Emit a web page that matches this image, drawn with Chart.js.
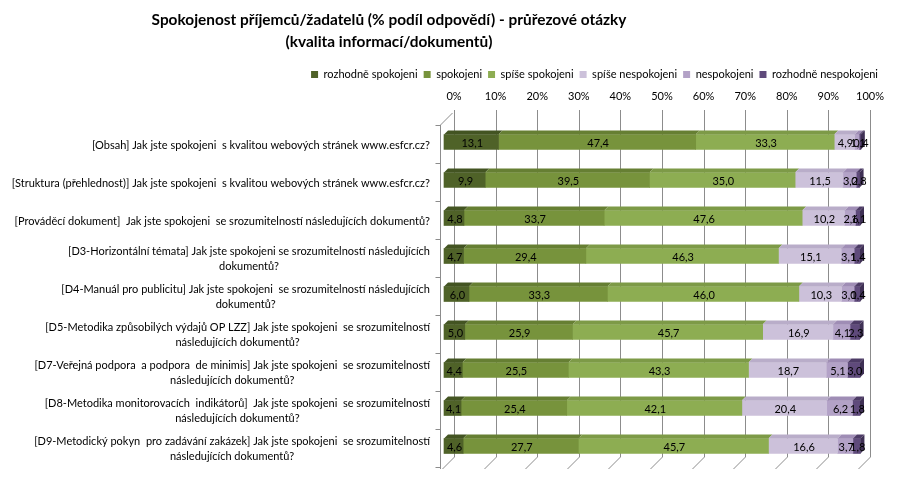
<!DOCTYPE html>
<html>
<head>
<meta charset="utf-8">
<script src="https://cdn.jsdelivr.net/npm/chart.js@4.4.0/dist/chart.umd.min.js"></script>
<style>
  html, body { margin: 0; padding: 0; background: #fff; }
  #wrap { width: 898px; height: 477px; }
</style>
</head>
<body>
<div id="wrap"><canvas id="chart"></canvas></div>
<script>
const titleLines = ['Spokojenost příjemců/žadatelů (% podíl odpovědí) - průřezové otázky', '(kvalita informací/dokumentů)'];

const questions = [
  ['[Obsah] Jak jste spokojeni  s kvalitou webových stránek www.esfcr.cz?'],
  ['[Struktura (přehlednost)] Jak jste spokojeni  s kvalitou webových stránek www.esfcr.cz?'],
  ['[Prováděcí dokument]  Jak jste spokojeni  se srozumitelností následujících dokumentů?'],
  ['[D3-Horizontální témata] Jak jste spokojeni se srozumitelností následujících', 'dokumentů?'],
  ['[D4-Manuál pro publicitu] Jak jste spokojeni  se srozumitelností následujících', 'dokumentů?'],
  ['[D5-Metodika způsobilých výdajů OP LZZ] Jak jste spokojeni  se srozumitelností', 'následujících dokumentů?'],
  ['[D7-Veřejná podpora  a podpora  de minimis] Jak jste spokojeni  se srozumitelností', 'následujících dokumentů?'],
  ['[D8-Metodika monitorovacích  indikátorů]  Jak jste spokojeni  se srozumitelností', 'následujících dokumentů?'],
  ['[D9-Metodický pokyn  pro zadávání zakázek] Jak jste spokojeni  se srozumitelností', 'následujících dokumentů?']
];

const seriesNames = ['rozhodně spokojeni', 'spokojeni', 'spíše spokojeni', 'spíše nespokojeni', 'nespokojeni', 'rozhodně nespokojeni'];

const rozhodneSpokojeni   = [13.1, 9.9, 4.8, 4.7, 6.0, 5.0, 4.4, 4.1, 4.6];
const spokojeni           = [47.4, 39.5, 33.7, 29.4, 33.3, 25.9, 25.5, 25.4, 27.7];
const spiseSpokojeni      = [33.3, 35.0, 47.6, 46.3, 46.0, 45.7, 43.3, 42.1, 45.7];
const spiseNespokojeni    = [4.9, 11.5, 10.2, 15.1, 10.3, 16.9, 18.7, 20.4, 16.6];
const nespokojeni         = [1.1, 3.2, 2.6, 3.1, 3.0, 4.1, 5.1, 6.2, 3.7];
const rozhodneNespokojeni = [0.4, 0.8, 1.1, 1.4, 1.4, 2.3, 3.0, 1.8, 1.8];

const xTicks = [0, 10, 20, 30, 40, 50, 60, 70, 80, 90, 100];

const fillColors = ['#4f6228', '#77933c', '#8dad52', '#ccc1da', '#b3a2c7', '#5f4a7b'];
const topColors  = ['#435422', '#667f33', '#7d9a47', '#b9adc9', '#9f8db5', '#4d3b66'];
const sideColors = ['#3b4a1e', '#5a712d', '#6e883e', '#a99cbb', '#8d7aa4', '#3f3055'];

const FONT = 'Lato';
const DEPTH = 4;

const allSeries = [rozhodneSpokojeni, spokojeni, spiseSpokojeni, spiseNespokojeni, nespokojeni, rozhodneNespokojeni];

// title drawn by hand, it sits left of the canvas centre
const titlePlugin = {
  id: 'titleText',
  afterDraw(chart) {
    const ctx = chart.ctx;
    ctx.save();
    ctx.font = 'bold 15.4px ' + FONT;
    ctx.fillStyle = '#000';
    ctx.textAlign = 'center';
    ctx.textBaseline = 'middle';
    ctx.fillText(titleLines[0], 389, 20);
    ctx.fillText(titleLines[1], 389, 42);
    ctx.restore();
  }
};

// back wall grid of the 3D look
const wallPlugin = {
  id: 'wall',
  beforeDatasetsDraw(chart) {
    const ctx = chart.ctx;
    const xs = chart.scales.x, ys = chart.scales.y;
    const {top, bottom, left} = chart.chartArea;
    ctx.save();
    ctx.strokeStyle = '#8c8c8c';
    ctx.lineWidth = 1;
    ctx.beginPath();
    xTicks.forEach(v => {
      const bx = Math.round(xs.getPixelForValue(v) + 10) + 0.5;
      ctx.moveTo(bx, top - 13);
      ctx.lineTo(bx, bottom - 8);
      ctx.lineTo(bx - 12, bottom + 4);
    });
    // left wall
    const lx = left - 3.5;
    ctx.moveTo(lx + 12, top - 10);
    ctx.lineTo(lx, top + 2);
    ctx.lineTo(lx, bottom + 4);
    for (let i = 0; i <= questions.length; i++) {
      const y = Math.round(ys.top + i * (ys.height / questions.length) + 2) + 0.5;
      ctx.moveTo(lx - 5, y);
      ctx.lineTo(lx, y);
    }
    ctx.stroke();
    ctx.restore();
  }
};

// category labels: block right aligned, lines centred
const yLabelPlugin = {
  id: 'yLabels',
  afterDraw(chart) {
    const ctx = chart.ctx;
    const ys = chart.scales.y;
    ctx.save();
    ctx.font = '11px ' + FONT;
    ctx.fillStyle = '#000';
    ctx.textAlign = 'center';
    ctx.textBaseline = 'middle';
    questions.forEach((lines, i) => {
      const w = Math.max(...lines.map(l => ctx.measureText(l).width));
      const cx = 430 - w / 2;
      const cy = ys.getPixelForValue(i) + 3;
      lines.forEach((l, j) => {
        ctx.fillText(l, cx, cy + (j - (lines.length - 1) / 2) * 15);
      });
    });
    ctx.restore();
  }
};

// top/side faces of the bars + value labels
const barPlugin = {
  id: 'bar3d',
  afterDatasetsDraw(chart) {
    const ctx = chart.ctx;
    ctx.save();
    chart.data.datasets.forEach((ds, i) => {
      const meta = chart.getDatasetMeta(i);
      meta.data.forEach(bar => {
        const x0 = Math.min(bar.x, bar.base), x1 = Math.max(bar.x, bar.base);
        const t = bar.y - bar.height / 2, b = bar.y + bar.height / 2;
        ctx.fillStyle = topColors[i];
        ctx.beginPath();
        ctx.moveTo(x0, t);
        ctx.lineTo(x0 + DEPTH, t - DEPTH);
        ctx.lineTo(x1 + DEPTH, t - DEPTH);
        ctx.lineTo(x1, t);
        ctx.closePath();
        ctx.fill();
        if (i === chart.data.datasets.length - 1) {
          ctx.fillStyle = sideColors[i];
          ctx.beginPath();
          ctx.moveTo(x1, t);
          ctx.lineTo(x1 + DEPTH, t - DEPTH);
          ctx.lineTo(x1 + DEPTH, b - DEPTH);
          ctx.lineTo(x1, b);
          ctx.closePath();
          ctx.fill();
        }
      });
    });
    ctx.font = '11px ' + FONT;
    ctx.fillStyle = '#000';
    ctx.textAlign = 'center';
    ctx.textBaseline = 'middle';
    chart.data.datasets.forEach((ds, i) => {
      const meta = chart.getDatasetMeta(i);
      meta.data.forEach((bar, j) => {
        const txt = ds.data[j].toFixed(1).replace('.', ',');
        ctx.fillText(txt, (bar.x + bar.base) / 2 + 1, bar.y + 1);
      });
    });
    ctx.restore();
  }
};

Chart.defaults.font.family = FONT;
Chart.defaults.color = '#000';

new Chart(document.getElementById('chart'), {
  type: 'bar',
  data: {
    labels: questions,
    datasets: allSeries.map((vals, i) => ({
      label: seriesNames[i],
      data: vals,
      backgroundColor: fillColors[i],
      borderWidth: 0,
      barThickness: 15,
      clip: false,
      xAxisID: 'x',
      yAxisID: 'y'
    }))
  },
  options: {
    indexAxis: 'y',
    responsive: true,
    maintainAspectRatio: false,
    animation: false,
    layout: { padding: { top: 63, left: 0, right: 14, bottom: 12 } },
    plugins: {
      legend: {
        position: 'top',
        align: 'end',
        labels: { boxWidth: 7, boxHeight: 7, padding: 6, font: { size: 11 }, color: '#000' }
      },
      title: { display: false },
      tooltip: { enabled: false }
    },
    scales: {
      x: {
        position: 'top',
        stacked: true,
        min: 0,
        max: 100,
        ticks: { stepSize: 10, callback: v => v + '%', labelOffset: 10, font: { size: 11 }, color: '#000', padding: 20 },
        grid: { display: false, drawTicks: false },
        border: { display: false },
        afterFit: s => { s.height = 33; }
      },
      y: {
        stacked: true,
        ticks: { display: false },
        grid: { display: false, drawTicks: false },
        border: { display: false },
        afterFit: s => { s.width = 444; }
      },
      r: {
        type: 'linear',
        position: 'right',
        ticks: { display: false },
        grid: { display: false, drawTicks: false },
        border: { display: false },
        afterFit: s => { s.width = 24; }
      }
    }
  },
  plugins: [wallPlugin, barPlugin, yLabelPlugin, titlePlugin]
});
</script>
</body>
</html>
